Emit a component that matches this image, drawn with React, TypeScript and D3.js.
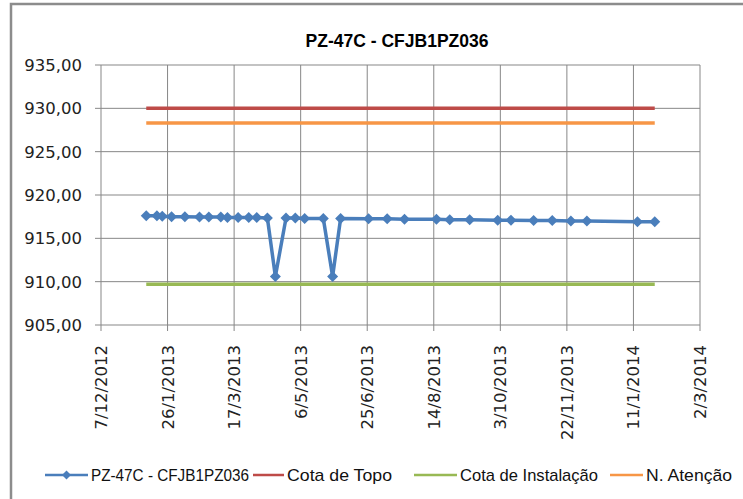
import React from 'react';
import * as d3 from 'd3';

// leituras do piezometro (dia/mes/ano)
const readingDates = [
  '10/1/2013', '18/1/2013', '22/1/2013', '29/1/2013', '8/2/2013', '19/2/2013',
  '26/2/2013', '7/3/2013', '12/3/2013', '20/3/2013', '28/3/2013', '3/4/2013',
  '11/4/2013', '17/4/2013', '25/4/2013', '2/5/2013', '9/5/2013', '23/5/2013',
  '30/5/2013', '5/6/2013', '26/6/2013', '10/7/2013', '23/7/2013', '16/8/2013',
  '26/8/2013', '10/9/2013', '1/10/2013', '11/10/2013', '28/10/2013', '11/11/2013',
  '25/11/2013', '7/12/2013', '14/1/2014', '27/1/2014'
];
const readingValues = [
  917.6, 917.6, 917.55, 917.5, 917.5, 917.45,
  917.45, 917.45, 917.4, 917.4, 917.4, 917.4,
  917.35, 910.6, 917.35, 917.35, 917.3, 917.3,
  910.6, 917.3, 917.25, 917.25, 917.2, 917.2,
  917.15, 917.15, 917.1, 917.1, 917.05, 917.05,
  917.0, 917.0, 916.9, 916.9
];

const cotaTopo = 930.0;
const nivelAtencao = 928.3;
const cotaInstalacao = 909.7;

const xTickLabels = [
  '7/12/2012', '26/1/2013', '17/3/2013', '6/5/2013', '25/6/2013',
  '14/8/2013', '3/10/2013', '22/11/2013', '11/1/2014', '2/3/2014'
];
const yTicks = [905, 910, 915, 920, 925, 930, 935];

const title = 'PZ-47C - CFJB1PZ036';
const legendLabels = ['PZ-47C - CFJB1PZ036', 'Cota de Topo', 'Cota de Instalação', 'N. Atenção'];
const legendColors = ['#4A7EBB', '#BE4B48', '#98B954', '#F79646'];

const parseDate = (s: string) => {
  const [d, m, y] = s.split('/').map(Number);
  return new Date(y, m - 1, d);
};

const W = 743;
const H = 499;
const margin = { left: 101, right: 43, top: 65, bottom: 174 };
const textFont = "'Liberation Sans', Arial, sans-serif";
const axisFont = "'DejaVu Sans', sans-serif";

// legend layout: key start, key end, text start, text width (px)
const legendLayout = [
  { k0: 45, k1: 88, t: 91, w: 158 },
  { k0: 253, k1: 284, t: 287, w: 105 },
  { k0: 414, k1: 457, t: 460, w: 138 },
  { k0: 610, k1: 643, t: 646, w: 86 }
];

export default function App() {
  const ticks = xTickLabels.map(parseDate);
  const x = d3.scaleTime()
    .domain([ticks[0], ticks[ticks.length - 1]])
    .range([margin.left, W - margin.right]);
  const y = d3.scaleLinear()
    .domain([905, 935])
    .range([H - margin.bottom, margin.top]);

  const pts = readingDates.map((d, i) => ({ date: parseDate(d), value: readingValues[i] }));
  const line = d3.line<{ date: Date; value: number }>()
    .x(d => x(d.date))
    .y(d => y(d.value));

  const x0 = x(pts[0].date);
  const x1 = x(pts[pts.length - 1].date);
  const diamond = (cx: number, cy: number, r = 5.5) =>
    `M${cx},${cy - r}L${cx + r},${cy}L${cx},${cy + r}L${cx - r},${cy}Z`;

  const refLines = [
    { v: cotaTopo, color: legendColors[1] },
    { v: nivelAtencao, color: legendColors[3] },
    { v: cotaInstalacao, color: legendColors[2] }
  ];

  const legendY = 475;
  const gridColor = '#878787';

  return (
    <svg width={W} height={H} style={{ position: 'absolute', left: 0, top: 0, background: '#fff' }}>
      <rect x={11} y={4} width={W} height={H} fill="#fff" stroke="#8c8c8c" strokeWidth={2.5} />

      <text x={397} y={47} textAnchor="middle" fontFamily={textFont} fontWeight="bold" fontSize={19}
        textLength={183} lengthAdjust="spacingAndGlyphs">
        {title}
      </text>

      {/* grid */}
      {yTicks.map(t => (
        <g key={'y' + t}>
          <line x1={margin.left - 6} x2={W - margin.right} y1={y(t)} y2={y(t)} stroke={gridColor} strokeWidth={1} />
          <text x={82} y={y(t)} dy="0.36em" textAnchor="end" fontFamily={axisFont} fontSize={16.5} fill="#222">
            {t.toFixed(2).replace('.', ',')}
          </text>
        </g>
      ))}
      {ticks.map((t, i) => (
        <g key={'x' + i}>
          <line x1={x(t)} x2={x(t)} y1={margin.top} y2={H - margin.bottom + 6} stroke={gridColor} strokeWidth={1} />
          <text
            transform={`translate(${x(t)},${H - margin.bottom + 20}) rotate(-90)`}
            textAnchor="end" dy="0.36em" fontFamily={axisFont} fontSize={16.5} fill="#222"
          >
            {xTickLabels[i]}
          </text>
        </g>
      ))}

      {refLines.map(r => (
        <line key={r.v} x1={x0} x2={x1} y1={y(r.v)} y2={y(r.v)} stroke={r.color} strokeWidth={3.5} />
      ))}

      <path d={line(pts) || ''} fill="none" stroke={legendColors[0]} strokeWidth={3.5} strokeLinejoin="round" />
      {pts.map((p, i) => (
        <path key={i} d={diamond(x(p.date), y(p.value))} fill={legendColors[0]} />
      ))}

      {/* legend */}
      {legendLabels.map((label, i) => {
        const l = legendLayout[i];
        return (
          <g key={label}>
            <line x1={l.k0} x2={l.k1} y1={legendY} y2={legendY} stroke={legendColors[i]} strokeWidth={2.5} />
            {i === 0 && <path d={diamond((l.k0 + l.k1) / 2, legendY, 4.5)} fill={legendColors[i]} />}
            <text x={l.t} y={legendY} dy="0.36em" fontFamily={textFont} fontSize={17} fill="#111"
              textLength={l.w} lengthAdjust="spacingAndGlyphs">
              {label}
            </text>
          </g>
        );
      })}
    </svg>
  );
}
